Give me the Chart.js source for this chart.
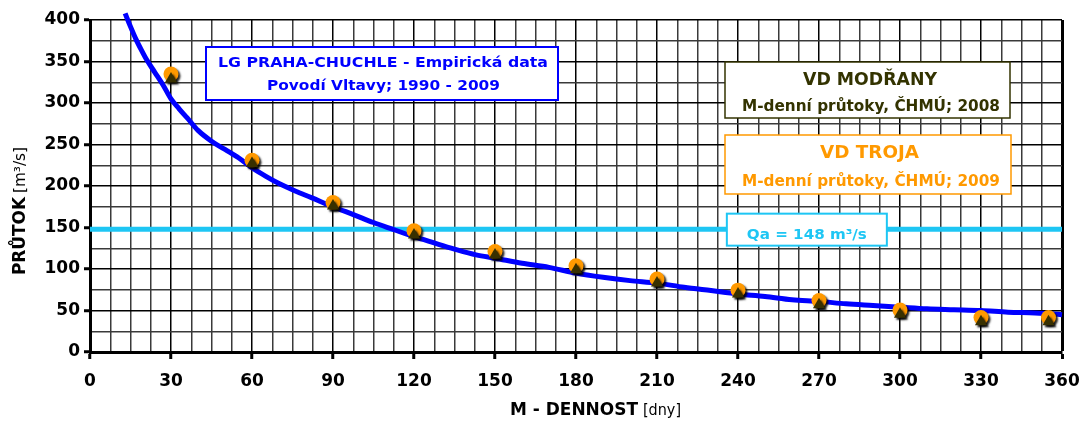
<!DOCTYPE html>
<html>
<head>
<meta charset="utf-8">
<script src="https://cdn.jsdelivr.net/npm/chart.js@4.4.1/dist/chart.umd.min.js"></script>
<style>
  html, body { margin: 0; padding: 0; background: #fff; }
  #wrap { width: 1081px; height: 423px; }
</style>
</head>
<body>
<div id="wrap"><canvas id="c" width="1081" height="423"></canvas></div>
<script>
// Empirical flow-duration curve, LG Praha-Chuchle (days, m3/s)
const curveDays = [13, 15, 17, 19, 21, 24, 27, 30, 33, 36, 40, 45, 50, 55, 60, 65, 70, 76, 82, 90,
                   98, 105, 112, 120, 128, 136, 143, 150, 160, 170, 180, 190, 200, 210, 220, 230, 240,
                   250, 260, 270, 280, 290, 300, 310, 320, 330, 340, 350, 360, 364];
const curveFlow = [408, 392, 377, 364, 352, 337, 322, 305, 293, 282, 267, 254, 244, 234, 222, 212, 203, 194, 186, 175,
                   165, 156, 148, 139, 131, 123, 117, 113, 107, 102, 95, 90, 86, 83, 78, 74, 70,
                   67, 63, 61, 58, 56, 54, 52, 51, 50, 48, 47, 45, 43];

// M-day flows of the two weirs
const markerDays = [30, 60, 90, 120, 150, 180, 210, 240, 270, 300, 330, 355];
const trojaFlow = [335, 231, 180, 146, 121, 104, 88, 74.5, 62, 50.5, 41.5, 41.5];
const modranyFlow = [329, 227, 176, 141, 117, 99, 83, 70, 57, 45.5, 36.5, 36.5];

// Long-term mean flow
const qaFlow = 148;
const qaDays = [0, 360];

// Labelled ticks
const xTickLabels = [0, 30, 60, 90, 120, 150, 180, 210, 240, 270, 300, 330, 360];
const yTickLabels = [0, 50, 100, 150, 200, 250, 300, 350, 400];

const toPoints = (xs, ys) => xs.map((x, i) => ({ x, y: ys[i] }));

const FONT = "'DejaVu Sans', 'Liberation Sans', Arial, sans-serif";
const BLUE = '#0000FF';
const CYAN = '#1EC6F4';
const ORANGE = '#FF9900';
const OLIVE = '#333300';

// Text drawn with a horizontal stretch so it spans a given width
function stretchedText(ctx, text, x, baseline, size, weight, color, width, align) {
  ctx.save();
  ctx.font = weight + ' ' + size + 'px ' + FONT;
  const w = ctx.measureText(text).width;
  const sx = width / w;
  const left = align === 'center' ? x - width / 2 : x;
  ctx.translate(left, baseline);
  ctx.scale(sx, 1);
  ctx.fillStyle = color;
  ctx.textAlign = 'left';
  ctx.textBaseline = 'alphabetic';
  ctx.fillText(text, 0, 0);
  ctx.restore();
}

function box(ctx, l, t, r, b, color, lw) {
  ctx.save();
  ctx.fillStyle = '#fff';
  ctx.fillRect(l, t, r - l, b - t);
  ctx.strokeStyle = color;
  ctx.lineWidth = lw;
  ctx.strokeRect(l, t, r - l, b - t);
  ctx.restore();
}

const markerShadow = {
  id: 'markerShadow',
  beforeDatasetDraw(chart, args) {
    if (chart.data.datasets[args.index].shadow) {
      const ctx = chart.ctx;
      ctx.save();
      ctx.shadowColor = 'rgba(0,0,0,0.85)';
      ctx.shadowOffsetX = 2;
      ctx.shadowOffsetY = 2;
      ctx.shadowBlur = 2;
    }
  },
  afterDatasetDraw(chart, args) {
    if (chart.data.datasets[args.index].shadow) chart.ctx.restore();
  }
};

const captions = {
  id: 'captions',
  afterDatasetsDraw(chart) {
    const ctx = chart.ctx;
    const xs = chart.scales.x, ys = chart.scales.y;

    // Source of the empirical curve
    box(ctx, 206, 47, 558, 100, BLUE, 2);
    stretchedText(ctx, 'LG PRAHA-CHUCHLE - Empirická data', 383, 67, 14, 'bold', BLUE, 330, 'center');
    stretchedText(ctx, 'Povodí Vltavy; 1990 - 2009', 383.5, 90, 14, 'bold', BLUE, 233, 'center');

    // VD Modřany
    box(ctx, 725, 62, 1010, 118, OLIVE, 1.5);
    stretchedText(ctx, 'VD MODŘANY', 870, 84.5, 18, 'bold', OLIVE, 134, 'center');
    stretchedText(ctx, 'M-denní průtoky, ČHMÚ; 2008', 871, 110.5, 16, 'bold', OLIVE, 258, 'center');

    // VD Troja
    box(ctx, 725, 135, 1011, 194, ORANGE, 1.5);
    stretchedText(ctx, 'VD TROJA', 869.5, 157.5, 18, 'bold', ORANGE, 99, 'center');
    stretchedText(ctx, 'M-denní průtoky, ČHMÚ; 2009', 871, 186, 16, 'bold', ORANGE, 258, 'center');

    // Qa label sitting on the mean-flow line
    const qy = ys.getPixelForValue(qaFlow);
    const qx = xs.getPixelForValue(265.5);
    box(ctx, qx - 80, qy - 15.5, qx + 80, qy + 16.5, CYAN, 2);
    stretchedText(ctx, 'Qa = 148 m³/s', qx, qy + 10, 14, 'bold', CYAN, 120, 'center');

    // Axis titles
    stretchedText(ctx, 'M - DENNOST', 510, 414.5, 17, 'bold', '#000', 128, 'left');
    stretchedText(ctx, '[dny]', 643, 414.5, 16, 'normal', '#000', 38, 'left');

    ctx.save();
    ctx.translate(25, 275);
    ctx.rotate(-Math.PI / 2);
    stretchedText(ctx, 'PRŮTOK', 0, 0, 17, 'bold', '#000', 78, 'left');
    stretchedText(ctx, '[m³/s]', 82, 0, 16, 'normal', '#000', 46, 'left');
    ctx.restore();
  }
};

const isMajorX = v => xTickLabels.includes(v);
const isMajorY = v => yTickLabels.includes(v);

new Chart(document.getElementById('c'), {
  type: 'scatter',
  data: {
    datasets: [
      {
        label: 'VD Modřany 2008',
        data: toPoints(markerDays, modranyFlow),
        pointStyle: 'triangle',
        pointRadius: 7,
        backgroundColor: '#383000',
        borderWidth: 0,
        shadow: true,
        order: 0
      },
      {
        label: 'VD Troja 2009',
        data: toPoints(markerDays, trojaFlow),
        pointStyle: 'circle',
        pointRadius: 7.5,
        backgroundColor: ORANGE,
        borderWidth: 0,
        shadow: true,
        order: 1
      },
      {
        label: 'LG Praha-Chuchle',
        data: toPoints(curveDays, curveFlow),
        showLine: true,
        borderColor: BLUE,
        borderWidth: 5,
        pointRadius: 0,
        tension: 0.3,
        cubicInterpolationMode: 'monotone',
        clip: false,
        order: 2
      },
      {
        label: 'Qa',
        data: qaDays.map(d => ({ x: d, y: qaFlow })),
        showLine: true,
        borderColor: CYAN,
        borderWidth: 5,
        pointRadius: 0,
        order: 3
      }
    ]
  },
  options: {
    responsive: false,
    animation: false,
    devicePixelRatio: 1,
    layout: { padding: { top: 20, right: 19, left: 0, bottom: 0 } },
    plugins: { legend: { display: false }, tooltip: { enabled: false } },
    scales: {
      x: {
        type: 'linear',
        min: 0,
        max: 360,
        afterFit: s => { s.height = 71; s.paddingLeft = 0; s.paddingRight = 0; },
        border: { color: '#000', width: 3 },
        grid: {
          color: c => (c.tick && isMajorX(c.tick.value)) ? '#000' : '#3a3a3a',
          lineWidth: c => (c.tick && c.tick.value === 360) ? 3 : 1.5,
          tickLength: 7,
          tickWidth: 3,
          tickColor: c => (c.tick && isMajorX(c.tick.value)) ? '#000' : 'rgba(0,0,0,0)'
        },
        ticks: {
          stepSize: 7.5,
          autoSkip: false,
          maxRotation: 0,
          padding: 12,
          color: '#000',
          font: { family: FONT, weight: 'bold', size: 17 },
          callback: v => isMajorX(v) ? String(v) : ''
        }
      },
      y: {
        min: 0,
        max: 400,
        afterFit: s => { s.width = 90; s.paddingTop = 0; s.paddingBottom = 0; },
        border: { color: '#000', width: 3 },
        grid: {
          color: c => (c.tick && isMajorY(c.tick.value)) ? '#000' : '#3a3a3a',
          lineWidth: 1.5,
          tickLength: 6,
          tickWidth: 3,
          tickColor: c => (c.tick && isMajorY(c.tick.value)) ? '#000' : 'rgba(0,0,0,0)'
        },
        ticks: {
          stepSize: 25,
          autoSkip: false,
          padding: 4,
          color: '#000',
          font: { family: FONT, weight: 'bold', size: 17 },
          callback: v => isMajorY(v) ? String(v) : ''
        }
      }
    }
  },
  plugins: [markerShadow, captions]
});
</script>
</body>
</html>
